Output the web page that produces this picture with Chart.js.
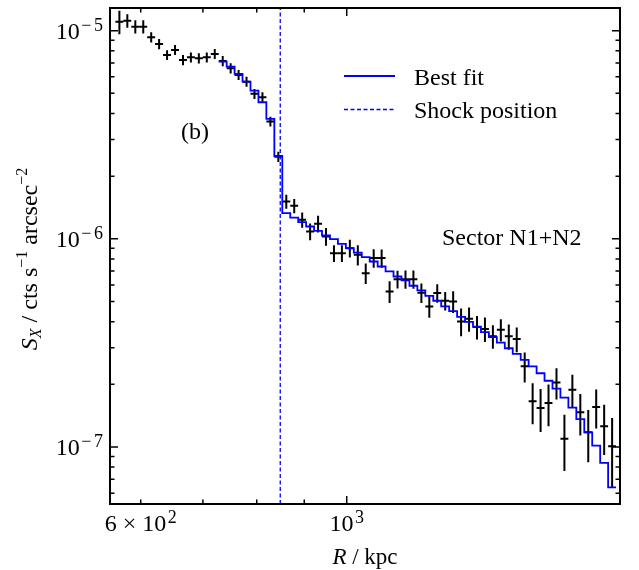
<!DOCTYPE html>
<html>
<head>
<meta charset="utf-8">
<script src="https://cdn.jsdelivr.net/npm/chart.js@4/dist/chart.umd.min.js"></script>
<style>
  html, body { margin: 0; padding: 0; background: #fff; }
</style>
</head>
<body>
<canvas id="myChart" width="639" height="570"></canvas>
<script>
// DATA
const radius = [
  569.1, 580.4, 592.0, 603.8, 615.8, 628.0, 640.5, 653.3, 666.3, 679.5,
  693.0, 706.8, 720.9, 735.3, 749.9, 764.8, 780.0, 795.5, 811.4, 827.5,
  844.0, 860.8, 877.9, 895.4, 913.2, 931.4, 949.9, 968.8, 988.1, 1007.7,
  1027.8, 1048.2, 1069.1, 1090.4, 1112.1, 1134.2, 1156.8, 1179.8, 1203.3, 1227.2,
  1251.6, 1276.5, 1301.9, 1327.8, 1354.3, 1381.2, 1408.7, 1436.7, 1465.3, 1494.5,
  1524.2, 1554.6, 1585.5, 1617.1, 1649.2, 1682.1, 1715.5, 1749.7, 1784.5, 1820.0,
  1856.2, 1893.2, 1930.9,
];
const radiusErr = [
  5.6, 5.7, 5.8, 5.9, 6.1, 6.2, 6.3, 6.4, 6.6, 6.7,
  6.8, 7.0, 7.1, 7.2, 7.4, 7.5, 7.7, 7.8, 8.0, 8.2,
  8.3, 8.5, 8.6, 8.8, 9.0, 9.2, 9.4, 9.5, 9.7, 9.9,
  10.1, 10.3, 10.5, 10.7, 11.0, 11.2, 11.4, 11.6, 11.9, 12.1,
  12.3, 12.6, 12.8, 13.1, 13.3, 13.6, 13.9, 14.2, 14.4, 14.7,
  15.0, 15.3, 15.6, 15.9, 16.2, 16.6, 16.9, 17.2, 17.6, 17.9,
  18.3, 18.6, 19.0,
];
const brightness = [
  1.105e-5, 1.117e-5, 1.045e-5, 1.045e-5, 9.30e-6, 8.63e-6, 7.64e-6, 8.08e-6, 7.23e-6, 7.45e-6,
  7.37e-6, 7.45e-6, 7.73e-6, 7.15e-6, 6.60e-6, 6.13e-6, 5.69e-6, 4.97e-6, 4.79e-6, 3.66e-6,
  2.48e-6, 1.51e-6, 1.44e-6, 1.234e-6, 1.084e-6, 1.180e-6, 1.026e-6, 8.53e-7, 8.53e-7, 9.02e-7,
  8.38e-7, 6.84e-7, 8.08e-7, 8.08e-7, 5.58e-7, 6.40e-7, 6.40e-7, 6.40e-7, 5.51e-7, 4.73e-7,
  5.49e-7, 5.04e-7, 5.00e-7, 4.01e-7, 4.13e-7, 3.77e-7, 3.69e-7, 3.40e-7, 3.66e-7, 3.40e-7,
  3.30e-7, 2.44e-7, 1.656e-7, 1.539e-7, 1.626e-7, 2.04e-7, 1.096e-7, 1.884e-7, 1.466e-7, 1.175e-7,
  1.556e-7, 1.256e-7, 1.007e-7,
];
const brightnessErr = [
  1.43e-6, 8.3e-7, 7.7e-7, 7.7e-7, 5.2e-7, 4.8e-7, 4.2e-7, 4.5e-7, 4.0e-7, 4.1e-7,
  4.1e-7, 4.1e-7, 4.3e-7, 4.0e-7, 3.7e-7, 3.4e-7, 3.2e-7, 2.8e-7, 2.7e-7, 2.0e-7,
  1.4e-7, 1.17e-7, 1.12e-7, 1.03e-7, 1.0e-7, 1.09e-7, 1.0e-7, 7.9e-8, 7.9e-8, 8.8e-8,
  9.3e-8, 7.8e-8, 8.2e-8, 8.1e-8, 6.7e-8, 6.3e-8, 6.4e-8, 6.5e-8, 5.9e-8, 5.6e-8,
  5.6e-8, 5.1e-8, 6.0e-8, 6.1e-8, 5.5e-8, 4.9e-8, 5.0e-8, 4.4e-8, 4.5e-8, 4.7e-8,
  4.5e-8, 4.0e-8, 3.7e-8, 3.6e-8, 3.7e-8, 3.5e-8, 3.3e-8, 3.4e-8, 3.3e-8, 3.3e-8,
  3.3e-8, 3.4e-8, 3.7e-8,
];
// best fit model, one value per bin starting at bin fitStart
const fitStart = 13;
const fitValues = [
  7.10e-6, 6.72e-6, 6.20e-6, 5.69e-6, 5.15e-6, 4.53e-6, 3.77e-6, 2.50e-6, 1.328e-6, 1.265e-6,
  1.203e-6, 1.146e-6, 1.092e-6, 1.037e-6, 9.97e-7, 9.46e-7, 9.02e-7, 8.59e-7, 8.17e-7, 7.78e-7,
  7.36e-7, 6.97e-7, 6.59e-7, 6.31e-7, 5.95e-7, 5.65e-7, 5.32e-7, 5.04e-7, 4.74e-7, 4.49e-7,
  4.22e-7, 3.99e-7, 3.78e-7, 3.56e-7, 3.37e-7, 3.17e-7, 2.98e-7, 2.80e-7, 2.62e-7, 2.44e-7,
  2.26e-7, 2.08e-7, 1.905e-7, 1.725e-7, 1.544e-7, 1.360e-7, 1.175e-7, 1.014e-7, 8.38e-8, 6.40e-8,
];
const shockRadius = 848;

const xRange = [556, 1969];
const yRange = [5.32e-8, 1.285e-5];
const xMajorTicks = [1000];
const xMinorTicks = [600, 700, 800, 900];
const xTickLabels = [[600, "6 \u00d7 10", "2"], [1000, "10", "3"]];
const yMajorTicks = [1e-7, 1e-6, 1e-5];
const yMinorTicks = [
  6e-8, 7e-8, 8e-8, 9e-8,
  2e-7, 3e-7, 4e-7, 5e-7, 6e-7, 7e-7, 8e-7, 9e-7,
  2e-6, 3e-6, 4e-6, 5e-6, 6e-6, 7e-6, 8e-6, 9e-6,
];
const yTickLabels = [[1e-5, "10", "\u22125"], [1e-6, "10", "\u22126"], [1e-7, "10", "\u22127"]];

const serif = "'Liberation Serif', 'Times New Roman', serif";
const blue = "#0000ff";

const points = radius.map((r, i) => ({ x: r, y: brightness[i], xErr: radiusErr[i], yErr: brightnessErr[i] }));
const fitPoints = fitValues.map((v, k) => ({ x: radius[fitStart + k] - radiusErr[fitStart + k], y: v }));
const last = radius.length - 1;
fitPoints.push({ x: radius[last] + radiusErr[last], y: fitValues[fitValues.length - 1] });

// "10" with a superscript; a leading minus gets a little room like mathtext
function drawPower(ctx, mant, exp, x, baseline, align) {
  const parts = exp[0] === "\u2212" ? [exp[0], exp.slice(1)] : [exp];
  ctx.font = "24px " + serif;
  const w1 = ctx.measureText(mant).width;
  ctx.font = "18px " + serif;
  let w2 = 0;
  parts.forEach((s) => (w2 += ctx.measureText(s).width));
  w2 += (parts.length - 1) * 2.5;
  const total = w1 + 1.5 + w2;
  let x0 = x;
  if (align === "center") x0 = x - total / 2;
  if (align === "right") x0 = x - total;
  ctx.textAlign = "left";
  ctx.textBaseline = "alphabetic";
  ctx.font = "24px " + serif;
  ctx.fillText(mant, x0, baseline);
  ctx.font = "18px " + serif;
  let cx = x0 + w1 + 1.5;
  parts.forEach((s) => {
    ctx.fillText(s, cx, baseline - 8);
    cx += ctx.measureText(s).width + 2.5;
  });
}

// draws a row of [text, font, dy] pieces centred on x
function drawPieces(ctx, pieces, x, baseline) {
  let total = 0;
  pieces.forEach((p) => {
    ctx.font = p[1];
    total += ctx.measureText(p[0]).width;
  });
  let cx = x - total / 2;
  ctx.textAlign = "left";
  ctx.textBaseline = "alphabetic";
  pieces.forEach((p) => {
    ctx.font = p[1];
    ctx.fillText(p[0], cx, baseline + p[2]);
    cx += ctx.measureText(p[0]).width;
  });
}

const errorBars = {
  id: "errorBars",
  beforeDatasetsDraw(chart) {
    const ctx = chart.ctx;
    const xs = chart.scales.x;
    const ys = chart.scales.y;
    const a = chart.chartArea;
    ctx.save();
    ctx.beginPath();
    ctx.rect(a.left, a.top, a.right - a.left, a.bottom - a.top);
    ctx.clip();
    ctx.strokeStyle = "#000";
    ctx.lineWidth = 2;
    ctx.beginPath();
    chart.data.datasets[0].data.forEach((p) => {
      const xc = xs.getPixelForValue(p.x);
      const yc = ys.getPixelForValue(p.y);
      ctx.moveTo(xs.getPixelForValue(p.x - p.xErr), yc);
      ctx.lineTo(xs.getPixelForValue(p.x + p.xErr), yc);
      ctx.moveTo(xc, ys.getPixelForValue(p.y - p.yErr));
      ctx.lineTo(xc, ys.getPixelForValue(p.y + p.yErr));
    });
    ctx.stroke();
    ctx.restore();
  },
};

const frame = {
  id: "frame",
  afterDraw(chart) {
    const ctx = chart.ctx;
    const xs = chart.scales.x;
    const ys = chart.scales.y;
    const a = chart.chartArea;
    ctx.save();
    ctx.strokeStyle = "#000";
    ctx.fillStyle = "#000";

    // inward ticks on all four sides
    ctx.lineWidth = 1.5;
    ctx.beginPath();
    const xTick = (v, len) => {
      const px = xs.getPixelForValue(v);
      ctx.moveTo(px, a.bottom);
      ctx.lineTo(px, a.bottom - len);
      ctx.moveTo(px, a.top);
      ctx.lineTo(px, a.top + len);
    };
    const yTick = (v, len) => {
      const py = ys.getPixelForValue(v);
      ctx.moveTo(a.left, py);
      ctx.lineTo(a.left + len, py);
      ctx.moveTo(a.right, py);
      ctx.lineTo(a.right - len, py);
    };
    xMajorTicks.forEach((v) => xTick(v, 8));
    xMinorTicks.forEach((v) => xTick(v, 4.5));
    yMajorTicks.forEach((v) => yTick(v, 8));
    yMinorTicks.forEach((v) => yTick(v, 4.5));
    ctx.stroke();

    ctx.lineWidth = 2;
    ctx.strokeRect(a.left, a.top, a.right - a.left, a.bottom - a.top);

    // tick labels
    xTickLabels.forEach((t) => drawPower(ctx, t[1], t[2], xs.getPixelForValue(t[0]), a.bottom + 27, "center"));
    yTickLabels.forEach((t) => drawPower(ctx, t[1], t[2], a.left - 7, ys.getPixelForValue(t[0]) + 8, "right"));

    // axis titles
    drawPieces(ctx, [["R", "italic 23px " + serif, 0], [" / kpc", "23px " + serif, 0]], (a.left + a.right) / 2, 564);
    ctx.save();
    ctx.translate(37, 259);
    ctx.rotate(-Math.PI / 2);
    drawPieces(ctx, [
      ["S", "italic 24px " + serif, 0],
      ["X", "italic 16px " + serif, 4],
      [" / cts s", "24px " + serif, 0],
      ["\u22121", "16px " + serif, -10],
      [" arcsec", "24px " + serif, 0],
      ["\u22122", "16px " + serif, -10],
    ], 0, 0);
    ctx.restore();

    // legend
    ctx.strokeStyle = blue;
    ctx.lineWidth = 2;
    ctx.beginPath();
    ctx.moveTo(344, 76);
    ctx.lineTo(395, 76);
    ctx.stroke();
    ctx.lineWidth = 1.3;
    ctx.setLineDash([4, 2.5]);
    ctx.beginPath();
    ctx.moveTo(344, 109.5);
    ctx.lineTo(395, 109.5);
    ctx.stroke();
    ctx.setLineDash([]);
    ctx.font = "24px " + serif;
    ctx.textAlign = "left";
    ctx.textBaseline = "alphabetic";
    ctx.fillText("Best fit", 414, 85);
    ctx.fillText("Shock position", 414, 118);

    // annotations
    ctx.fillText("(b)", 181, 139);
    ctx.fillText("Sector N1+N2", 442, 245);
    ctx.restore();
  },
};

// CHART JS
const ctx = document.getElementById("myChart").getContext("2d");
const myChart = new Chart(ctx, {
  type: "scatter",
  data: {
    datasets: [
      {
        label: "Data",
        data: points,
        pointRadius: 0,
        pointHoverRadius: 0,
      },
      {
        label: "Best fit",
        data: fitPoints,
        showLine: true,
        stepped: true,
        borderColor: blue,
        borderWidth: 1.8,
        pointRadius: 0,
      },
      {
        label: "Shock position",
        data: [{ x: shockRadius, y: yRange[0] }, { x: shockRadius, y: yRange[1] }],
        showLine: true,
        borderColor: blue,
        borderWidth: 1.3,
        borderDash: [4, 2.5],
        pointRadius: 0,
      },
    ],
  },
  options: {
    responsive: false,
    animation: false,
    layout: {
      padding: { left: 110, right: 19, top: 8, bottom: 66 },
    },
    plugins: {
      legend: { display: false },
      tooltip: { enabled: false },
    },
    scales: {
      x: {
        type: "logarithmic",
        min: xRange[0],
        max: xRange[1],
        display: false,
      },
      y: {
        type: "logarithmic",
        min: yRange[0],
        max: yRange[1],
        display: false,
      },
    },
  },
  plugins: [errorBars, frame],
});
</script>
</body>
</html>
